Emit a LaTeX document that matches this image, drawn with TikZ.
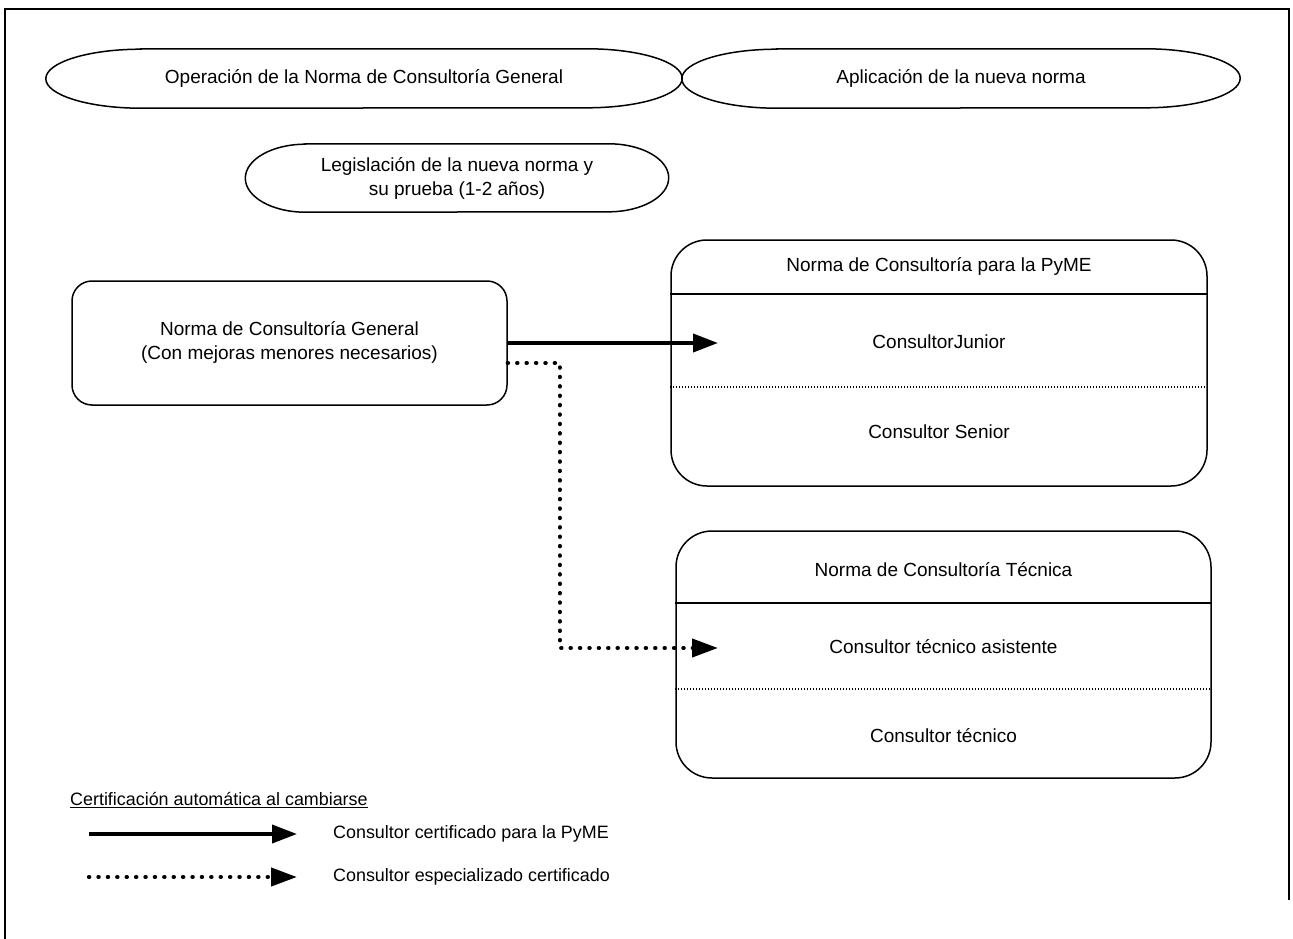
\documentclass[tikz,border=0pt]{standalone}
\usepackage{fontspec}
\setmainfont{Liberation Sans}
\usetikzlibrary{arrows.meta}
\tikzset{
  txt/.style={inner sep=0pt, font=\fontsize{19}{24}\selectfont, align=center},
  ltxt/.style={inner sep=0pt, font=\fontsize{17.9}{23}\selectfont, anchor=west},
  stad/.style={inner sep=0pt, font=\fontsize{19}{24}\selectfont, align=center},
  outline/.style={line width=1.5pt},
  rbox/.style={draw, line width=1.5pt, inner sep=0pt},
  sep/.style={line width=1.3pt},
  dsep/.style={line width=1.1pt, dash pattern=on 1pt off 2pt},
  solidarr/.style={line width=3.8pt, -{Triangle[length=25pt,width=18pt]}},
  dotarr/.style={line width=4.2pt, line cap=round, dash pattern=on 0.3pt off 9.1pt, -{Triangle[length=26pt,width=18pt,sep=8pt]}},
}
\begin{document}
\begin{tikzpicture}[x=1pt,y=-1pt]
\useasboundingbox (0,0) rectangle (1293,939);
% frame
\draw[line width=2.6pt] (5,939) -- (5,9) -- (1289,9) -- (1289,900);

% top stadiums
\node[stad, minimum width=636pt, minimum height=59pt] (e1) at (364,78.5) {Operación de la Norma de Consultoría General};
\draw[outline] ([xshift=95pt]e1.north west) -- ([xshift=-95pt]e1.north east)
  arc[start angle=-90, end angle=90, x radius=95, y radius=29.5]
  -- ([xshift=95pt]e1.south west)
  arc[start angle=90, end angle=270, x radius=95, y radius=29.5] -- cycle;

\node[stad, minimum width=558pt, minimum height=59pt] (e2) at (961,78.5) {Aplicación de la nueva norma};
\draw[outline] ([xshift=95pt]e2.north west) -- ([xshift=-95pt]e2.north east)
  arc[start angle=-90, end angle=90, x radius=95, y radius=29.5]
  -- ([xshift=95pt]e2.south west)
  arc[start angle=90, end angle=270, x radius=95, y radius=29.5] -- cycle;

\node[stad, minimum width=423pt, minimum height=68pt] (e3) at (457,178) {Legislación de la nueva norma y\\su prueba (1-2 años)};
\draw[outline] ([xshift=60pt]e3.north west) -- ([xshift=-60pt]e3.north east)
  arc[start angle=-90, end angle=90, x radius=60, y radius=34]
  -- ([xshift=60pt]e3.south west)
  arc[start angle=90, end angle=270, x radius=60, y radius=34] -- cycle;

% general box
\node[rbox, rounded corners=20pt, minimum width=435pt, minimum height=124pt] (g) at (289.5,343) {};
\node[txt] (gt) at (289.5,342.5) {Norma de Consultoría General\\(Con mejoras menores necesarios)};

% PyME box
\node[rbox, rounded corners=36pt, minimum width=536pt, minimum height=246pt] (p) at (939,363) {};
\draw[sep] (p.west |- 0,294) -- (p.east |- 0,294);
\draw[dsep] (p.west |- 0,387) -- (p.east |- 0,387);
\node[txt] (pt) at (939,266) {Norma de Consultoría para la PyME};
\node[txt] (pj) at (939,342) {ConsultorJunior};
\node[txt] (ps) at (939,432) {Consultor Senior};

% Tecnica box
\node[rbox, rounded corners=36pt, minimum width=535pt, minimum height=247pt] (t) at (943.5,654.5) {};
\draw[sep] (t.west |- 0,603) -- (t.east |- 0,603);
\draw[dsep] (t.west |- 0,689) -- (t.east |- 0,689);
\node[txt] (tt) at (943.5,570) {Norma de Consultoría Técnica};
\node[txt] (ta) at (943.5,647) {Consultor técnico asistente};
\node[txt] (tc) at (943.5,736) {Consultor técnico};

% connectors
\coordinate (tipA) at (718,343);
\coordinate (tipB) at (726,648);
\draw[solidarr] (g.east) -- (tipA);
\draw[dotarr] ([yshift=-20pt]g.east) -- ++(52,0) |- (tipB);

% legend
\node[ltxt] (lt) at (70,800) {\underline{Certificación automática al cambiarse}};
\coordinate (l1a) at (89,834);
\coordinate (l1b) at (297,834);
\coordinate (l2a) at (89,877);
\coordinate (l2b) at (305,877);
\draw[solidarr] (l1a) -- (l1b);
\draw[dotarr] (l2a) -- (l2b);
\node[ltxt] (l1) at (333,834) {Consultor certificado para la PyME};
\node[ltxt] (l2) at (333,877) {Consultor especializado certificado};
\end{tikzpicture}
\end{document}
